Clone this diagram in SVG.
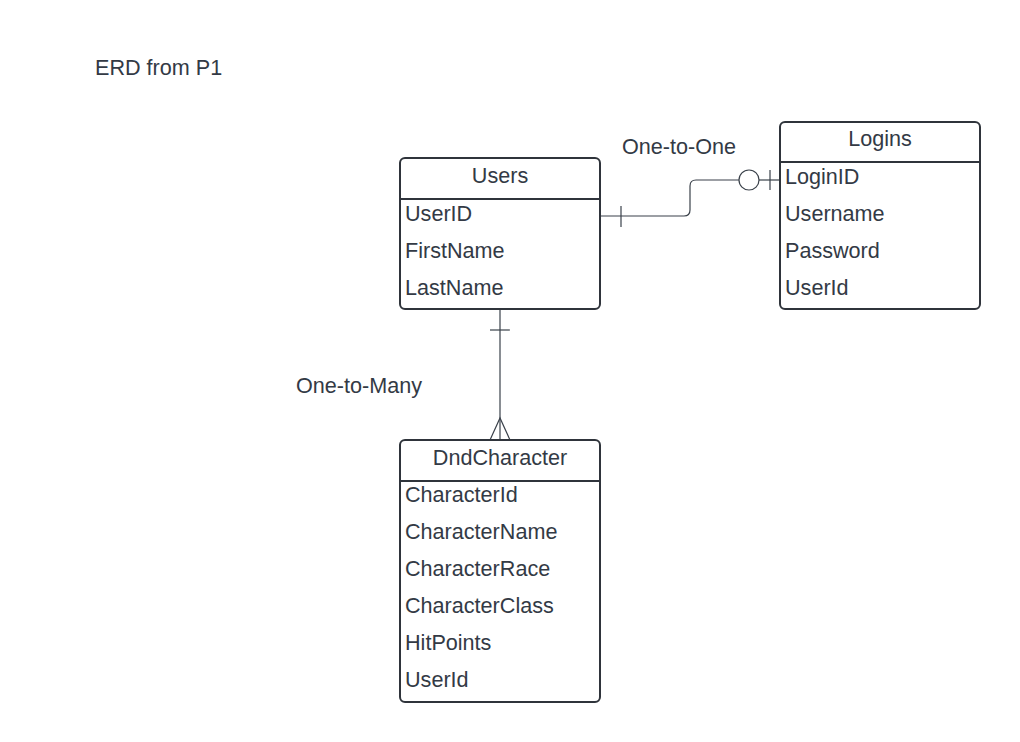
<svg xmlns="http://www.w3.org/2000/svg" width="1020" height="742" viewBox="0 0 1020 742">
<style>
text { font-family: "Liberation Sans", Arial, sans-serif; font-size: 21.6px; fill: #333a45; }
.hdr { text-anchor: middle; }
.box { fill: #ffffff; stroke: #2f343b; stroke-width: 2; }
.sep { stroke: #2f343b; stroke-width: 2; }
.conn { fill: none; stroke: #3a414a; stroke-width: 1.2; }
</style>
<rect width="1020" height="742" fill="#ffffff"/>
<text x="95" y="75">ERD from P1</text>
<text x="622" y="154">One-to-One</text>
<text x="296" y="393">One-to-Many</text>

<g id="connectors">
  <path class="conn" d="M600,216 H684 Q690,216 690,210 V186 Q690,180 696,180 H739"/>
  <line class="conn" x1="621" y1="206" x2="621" y2="227"/>
  <circle class="conn" cx="749" cy="180" r="10"/>
  <line class="conn" x1="759" y1="180" x2="780" y2="180"/>
  <line class="conn" x1="770" y1="170" x2="770" y2="190"/>
  <line class="conn" x1="500" y1="309" x2="500" y2="440"/>
  <line class="conn" x1="490" y1="330" x2="510" y2="330"/>
  <path class="conn" d="M490,440 L500,418 L510,440"/>
</g>

<g id="users">
  <rect class="box" x="400" y="158" width="200" height="151" rx="5"/>
  <line class="sep" x1="400" y1="199" x2="600" y2="199"/>
  <text class="hdr" x="500" y="183">Users</text>
  <text x="405" y="221">UserID</text>
  <text x="405" y="258">FirstName</text>
  <text x="405" y="295">LastName</text>
</g>

<g id="logins">
  <rect class="box" x="780" y="122" width="200" height="187" rx="5"/>
  <line class="sep" x1="780" y1="162" x2="980" y2="162"/>
  <text class="hdr" x="880" y="146">Logins</text>
  <text x="785" y="184">LoginID</text>
  <text x="785" y="221">Username</text>
  <text x="785" y="258">Password</text>
  <text x="785" y="295">UserId</text>
</g>

<g id="dndcharacter">
  <rect class="box" x="400" y="440" width="200" height="262" rx="5"/>
  <line class="sep" x1="400" y1="481" x2="600" y2="481"/>
  <text class="hdr" x="500" y="465">DndCharacter</text>
  <text x="405" y="502">CharacterId</text>
  <text x="405" y="539">CharacterName</text>
  <text x="405" y="576">CharacterRace</text>
  <text x="405" y="613">CharacterClass</text>
  <text x="405" y="650">HitPoints</text>
  <text x="405" y="687">UserId</text>
</g>
</svg>
